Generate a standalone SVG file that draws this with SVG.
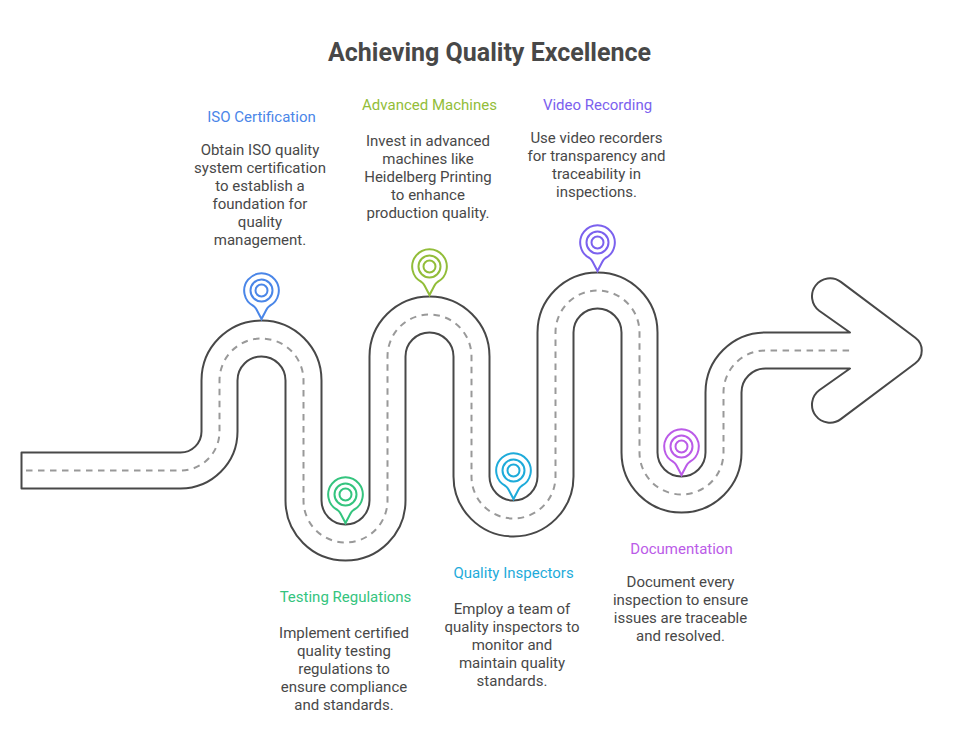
<svg xmlns="http://www.w3.org/2000/svg" width="964" height="746" viewBox="0 0 964 746">
<style>
text{font-family:Roboto,"Liberation Sans",sans-serif;text-anchor:middle}
.title{font-size:25px;font-weight:700;fill:#484848}
.head{font-size:15px}
.body{font-size:15px;fill:#484848}
.road{fill:#fff;stroke:#484848;stroke-width:2;stroke-linejoin:round}
.dash{fill:none;stroke:#999;stroke-width:2;stroke-dasharray:6.5 5.5}
.pin{fill:none;stroke-width:2}
</style>
<defs>
<g id="pin">
<path d="M0 28.5L-5 19Q-6 17-8 15.5A17.3 17.3 0 1 1 8 15.5Q6 17 5 19Z"/>
<circle r="11"/>
<circle r="6"/>
</g>
</defs>
<rect width="964" height="746" fill="#fff"/>
<text class="title" x="489.5" y="61">Achieving Quality Excellence</text>
<g id="connectors">
<path class="road" d="M21.5 452.5H180.5A21 21 0 0 0 201.5 431.5V380.5A60 60 0 0 1 321.5 380.5V500.5A24 24 0 0 0 369.5 500.5V356.5A60 60 0 0 1 489.5 356.5V476.5A24 24 0 0 0 537.5 476.5V332.5A60 60 0 0 1 657.5 332.5V452.5A24 24 0 0 0 705.5 452.5V392.5A60 60 0 0 1 765.5 332.5H850L819.2 310.7A18 18 0 0 1 840.8 281.9L915.35 337.7A16 16 0 0 1 915.35 363.3L840.8 419.1A18 18 0 0 1 819.2 390.3L850 368.5H765.5A24 24 0 0 0 741.5 392.5V452.5A60 60 0 0 1 621.5 452.5V332.5A24 24 0 0 0 573.5 332.5V476.5A60 60 0 0 1 453.5 476.5V356.5A24 24 0 0 0 405.5 356.5V500.5A60 60 0 0 1 285.5 500.5V380.5A24 24 0 0 0 237.5 380.5V431.5A57 57 0 0 1 180.5 488.5H21.5Z"/>
<path class="dash" d="M26 470.5H180.5A39 39 0 0 0 219.5 431.5V380.5A42 42 0 0 1 303.5 380.5V500.5A42 42 0 0 0 387.5 500.5V356.5A42 42 0 0 1 471.5 356.5V476.5A42 42 0 0 0 555.5 476.5V332.5A42 42 0 0 1 639.5 332.5V452.5A42 42 0 0 0 723.5 452.5V392.5A42 42 0 0 1 765.5 350.5H850"/>
</g>
<g id="node-iso">
<use href="#pin" class="pin" stroke="#4a86e8" transform="translate(261.5 290.5)"/>
<text class="head" fill="#4a86e8" x="261.5" y="122">ISO Certification</text>
<text class="body" x="260" y="155">Obtain ISO quality</text>
<text class="body" x="260" y="173">system certification</text>
<text class="body" x="260" y="191">to establish a</text>
<text class="body" x="260" y="209">foundation for</text>
<text class="body" x="260" y="227">quality</text>
<text class="body" x="260" y="245">management.</text>
</g>
<g id="node-testing">
<use href="#pin" class="pin" stroke="#34c47e" transform="translate(345.5 494.5)"/>
<text class="head" fill="#34c47e" x="345.5" y="602">Testing Regulations</text>
<text class="body" x="344" y="638">Implement certified</text>
<text class="body" x="344" y="656">quality testing</text>
<text class="body" x="344" y="674">regulations to</text>
<text class="body" x="344" y="692">ensure compliance</text>
<text class="body" x="344" y="710">and standards.</text>
</g>
<g id="node-machines">
<use href="#pin" class="pin" stroke="#92bd39" transform="translate(429.5 266.5)"/>
<text class="head" fill="#92bd39" x="429.5" y="110">Advanced Machines</text>
<text class="body" x="428" y="146">Invest in advanced</text>
<text class="body" x="428" y="164">machines like</text>
<text class="body" x="428" y="182">Heidelberg Printing</text>
<text class="body" x="428" y="200">to enhance</text>
<text class="body" x="428" y="218">production quality.</text>
</g>
<g id="node-inspectors">
<use href="#pin" class="pin" stroke="#1eabda" transform="translate(513.5 470.5)"/>
<text class="head" fill="#1eabda" x="513.5" y="578">Quality Inspectors</text>
<text class="body" x="512" y="614">Employ a team of</text>
<text class="body" x="512" y="632">quality inspectors to</text>
<text class="body" x="512" y="650">monitor and</text>
<text class="body" x="512" y="668">maintain quality</text>
<text class="body" x="512" y="686">standards.</text>
</g>
<g id="node-video">
<use href="#pin" class="pin" stroke="#7b61ee" transform="translate(597.5 242.5)"/>
<text class="head" fill="#7b61ee" x="597.5" y="110">Video Recording</text>
<text class="body" x="596.5" y="143">Use video recorders</text>
<text class="body" x="596.5" y="161">for transparency and</text>
<text class="body" x="596.5" y="179">traceability in</text>
<text class="body" x="596.5" y="197">inspections.</text>
</g>
<g id="node-documentation">
<use href="#pin" class="pin" stroke="#bb5be8" transform="translate(681.5 446.5)"/>
<text class="head" fill="#bb5be8" x="681.5" y="554">Documentation</text>
<text class="body" x="680.5" y="587">Document every</text>
<text class="body" x="680.5" y="605">inspection to ensure</text>
<text class="body" x="680.5" y="623">issues are traceable</text>
<text class="body" x="680.5" y="641">and resolved.</text>
</g>
</svg>
